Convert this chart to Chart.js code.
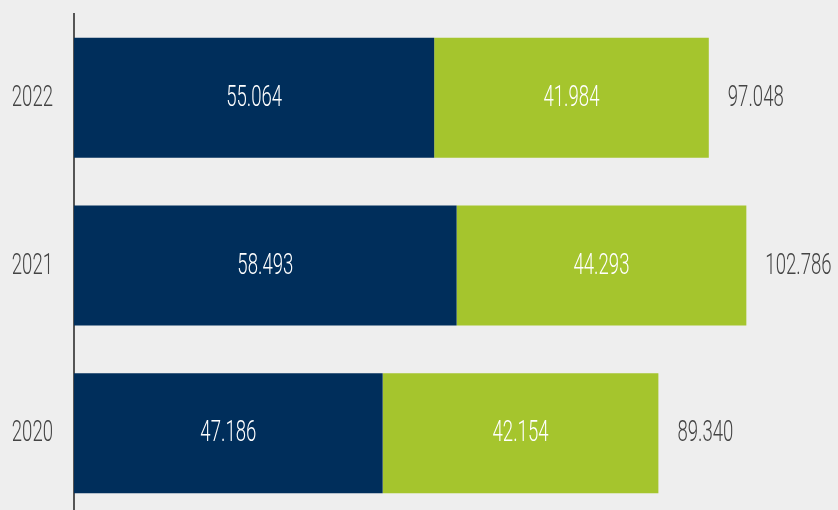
<!DOCTYPE html>
<html>
<head>
<meta charset="utf-8">
<script src="https://cdn.jsdelivr.net/npm/chart.js@4"></script>
<style>
  html, body { margin: 0; padding: 0; background: #eeeeee; overflow: hidden; }
  #caixa { width: 838px; height: 520px; }
</style>
</head>
<body>
<div id="caixa"><canvas id="grafico"></canvas></div>
<script>
// Dados do gráfico
const anos = ['2022', '2021', '2020'];
const serieAzul = [55064, 58493, 47186];
const serieVerde = [41984, 44293, 42154];
const totais = anos.map((a, i) => serieAzul[i] + serieVerde[i]);

const FONTE = '300 29px Roboto, "Open Sans", "DejaVu Sans", sans-serif';
const ESCALA_X = 0.64; // imita a fonte condensada do original

function formatar(v) {
    return v.toLocaleString('de-DE');
}

// Rótulos desenhados à mão (valores, totais e anos)
const rotulos = {
    id: 'rotulos',
    afterDraw(chart) {
        const ctx = chart.ctx;
        ctx.save();
        ctx.font = FONTE;
        ctx.textBaseline = 'middle';

        function texto(t, x, y, cor, alinhamento) {
            ctx.save();
            ctx.translate(x, y);
            ctx.scale(ESCALA_X, 1);
            ctx.fillStyle = cor;
            ctx.textAlign = alinhamento;
            ctx.fillText(t, 0, 0);
            ctx.restore();
        }

        chart.data.datasets.forEach((ds, i) => {
            chart.getDatasetMeta(i).data.forEach((barra, j) => {
                const c = barra.getCenterPoint();
                texto(formatar(ds.data[j]), c.x, c.y + 1, '#ffffff', 'center');
            });
        });

        const ultimo = chart.getDatasetMeta(chart.data.datasets.length - 1);
        ultimo.data.forEach((barra, j) => {
            texto(formatar(totais[j]), barra.x + 19, barra.y + 1, '#444444', 'left');
        });

        const eixoY = chart.scales.y;
        anos.forEach((a, j) => {
            texto(a, eixoY.right - 21, eixoY.getPixelForValue(j) + 1, '#444444', 'right');
        });
        ctx.restore();
    }
};

new Chart(document.getElementById('grafico'), {
    type: 'bar',
    data: {
        labels: anos,
        datasets: [
            {
                label: 'Azul',
                data: serieAzul,
                backgroundColor: '#002e5b',
                barPercentage: 0.716,
                categoryPercentage: 1
            },
            {
                label: 'Verde',
                data: serieVerde,
                backgroundColor: '#a5c52d',
                barPercentage: 0.716,
                categoryPercentage: 1
            }
        ]
    },
    options: {
        indexAxis: 'y',
        responsive: true,
        maintainAspectRatio: false,
        animation: false,
        layout: { padding: { top: 14, bottom: 3, left: 0, right: 0 } },
        plugins: {
            legend: { display: false },
            tooltip: { enabled: false }
        },
        scales: {
            x: {
                stacked: true,
                display: false,
                min: 0,
                max: 116800
            },
            y: {
                stacked: true,
                grid: { display: false, drawTicks: false },
                border: { display: true, color: '#555555', width: 2 },
                ticks: { display: false },
                afterFit(scale) { scale.width = 74; }
            }
        }
    },
    plugins: [rotulos]
});
</script>
</body>
</html>
